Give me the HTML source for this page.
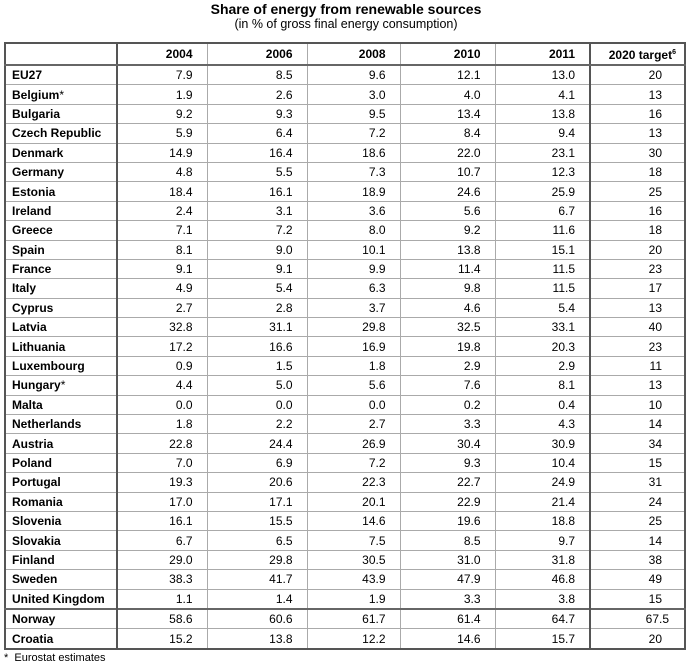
<!DOCTYPE html><html><head><style>
body{margin:0;width:692px;height:671px;background:#fff;font-family:"Liberation Sans",Arial,sans-serif;color:#000;position:relative}
.t{position:absolute;left:0;width:692px;text-align:center;font-weight:bold;font-size:14px;top:1px}
.s{position:absolute;left:0;width:692px;text-align:center;font-size:12.5px;top:17px}
table{position:absolute;left:4px;top:42px;border-collapse:collapse;font-size:12px;border:2px solid #555}
td{height:18.4px;padding:0 14px 0 0;text-align:right;border-top:1px solid #aaa;border-left:1px solid #aaa;line-height:18px}
td:first-child{text-align:left;font-weight:bold;padding:0 0 0 6px;border-right:2px solid #555}
tr.h td{font-weight:bold;height:17.5px;border-bottom:2px solid #666}
tr.n td{border-top:2px solid #666}
td.l{border-left:2px solid #555}
.f{position:absolute;left:4px;top:652px;font-size:11px}
</style></head><body>
<div class="t">Share of energy from renewable sources</div>
<div class="s">(in % of gross final energy consumption)</div>
<table>
<colgroup><col style="width:112px"><col style="width:90px"><col style="width:100px"><col style="width:93px"><col style="width:95px"><col style="width:95px"><col style="width:95px"></colgroup>
<tr class="h"><td></td><td>2004</td><td>2006</td><td>2008</td><td>2010</td><td>2011</td><td class="l" style="padding-right:8px">2020 target<sup style="font-size:7px">6</sup></td></tr>
<tr><td>EU27</td><td>7.9</td><td>8.5</td><td>9.6</td><td>12.1</td><td>13.0</td><td class="l" style="padding-right:22px">20</td></tr>
<tr><td>Belgium<span style="font-weight:normal">*</span></td><td>1.9</td><td>2.6</td><td>3.0</td><td>4.0</td><td>4.1</td><td class="l" style="padding-right:22px">13</td></tr>
<tr><td>Bulgaria</td><td>9.2</td><td>9.3</td><td>9.5</td><td>13.4</td><td>13.8</td><td class="l" style="padding-right:22px">16</td></tr>
<tr><td>Czech Republic</td><td>5.9</td><td>6.4</td><td>7.2</td><td>8.4</td><td>9.4</td><td class="l" style="padding-right:22px">13</td></tr>
<tr><td>Denmark</td><td>14.9</td><td>16.4</td><td>18.6</td><td>22.0</td><td>23.1</td><td class="l" style="padding-right:22px">30</td></tr>
<tr><td>Germany</td><td>4.8</td><td>5.5</td><td>7.3</td><td>10.7</td><td>12.3</td><td class="l" style="padding-right:22px">18</td></tr>
<tr><td>Estonia</td><td>18.4</td><td>16.1</td><td>18.9</td><td>24.6</td><td>25.9</td><td class="l" style="padding-right:22px">25</td></tr>
<tr><td>Ireland</td><td>2.4</td><td>3.1</td><td>3.6</td><td>5.6</td><td>6.7</td><td class="l" style="padding-right:22px">16</td></tr>
<tr><td>Greece</td><td>7.1</td><td>7.2</td><td>8.0</td><td>9.2</td><td>11.6</td><td class="l" style="padding-right:22px">18</td></tr>
<tr><td>Spain</td><td>8.1</td><td>9.0</td><td>10.1</td><td>13.8</td><td>15.1</td><td class="l" style="padding-right:22px">20</td></tr>
<tr><td>France</td><td>9.1</td><td>9.1</td><td>9.9</td><td>11.4</td><td>11.5</td><td class="l" style="padding-right:22px">23</td></tr>
<tr><td>Italy</td><td>4.9</td><td>5.4</td><td>6.3</td><td>9.8</td><td>11.5</td><td class="l" style="padding-right:22px">17</td></tr>
<tr><td>Cyprus</td><td>2.7</td><td>2.8</td><td>3.7</td><td>4.6</td><td>5.4</td><td class="l" style="padding-right:22px">13</td></tr>
<tr><td>Latvia</td><td>32.8</td><td>31.1</td><td>29.8</td><td>32.5</td><td>33.1</td><td class="l" style="padding-right:22px">40</td></tr>
<tr><td>Lithuania</td><td>17.2</td><td>16.6</td><td>16.9</td><td>19.8</td><td>20.3</td><td class="l" style="padding-right:22px">23</td></tr>
<tr><td>Luxembourg</td><td>0.9</td><td>1.5</td><td>1.8</td><td>2.9</td><td>2.9</td><td class="l" style="padding-right:22px">11</td></tr>
<tr><td>Hungary<span style="font-weight:normal">*</span></td><td>4.4</td><td>5.0</td><td>5.6</td><td>7.6</td><td>8.1</td><td class="l" style="padding-right:22px">13</td></tr>
<tr><td>Malta</td><td>0.0</td><td>0.0</td><td>0.0</td><td>0.2</td><td>0.4</td><td class="l" style="padding-right:22px">10</td></tr>
<tr><td>Netherlands</td><td>1.8</td><td>2.2</td><td>2.7</td><td>3.3</td><td>4.3</td><td class="l" style="padding-right:22px">14</td></tr>
<tr><td>Austria</td><td>22.8</td><td>24.4</td><td>26.9</td><td>30.4</td><td>30.9</td><td class="l" style="padding-right:22px">34</td></tr>
<tr><td>Poland</td><td>7.0</td><td>6.9</td><td>7.2</td><td>9.3</td><td>10.4</td><td class="l" style="padding-right:22px">15</td></tr>
<tr><td>Portugal</td><td>19.3</td><td>20.6</td><td>22.3</td><td>22.7</td><td>24.9</td><td class="l" style="padding-right:22px">31</td></tr>
<tr><td>Romania</td><td>17.0</td><td>17.1</td><td>20.1</td><td>22.9</td><td>21.4</td><td class="l" style="padding-right:22px">24</td></tr>
<tr><td>Slovenia</td><td>16.1</td><td>15.5</td><td>14.6</td><td>19.6</td><td>18.8</td><td class="l" style="padding-right:22px">25</td></tr>
<tr><td>Slovakia</td><td>6.7</td><td>6.5</td><td>7.5</td><td>8.5</td><td>9.7</td><td class="l" style="padding-right:22px">14</td></tr>
<tr><td>Finland</td><td>29.0</td><td>29.8</td><td>30.5</td><td>31.0</td><td>31.8</td><td class="l" style="padding-right:22px">38</td></tr>
<tr><td>Sweden</td><td>38.3</td><td>41.7</td><td>43.9</td><td>47.9</td><td>46.8</td><td class="l" style="padding-right:22px">49</td></tr>
<tr><td>United Kingdom</td><td>1.1</td><td>1.4</td><td>1.9</td><td>3.3</td><td>3.8</td><td class="l" style="padding-right:22px">15</td></tr>
<tr class="n"><td>Norway</td><td>58.6</td><td>60.6</td><td>61.7</td><td>61.4</td><td>64.7</td><td class="l" style="padding-right:15px">67.5</td></tr>
<tr><td>Croatia</td><td>15.2</td><td>13.8</td><td>12.2</td><td>14.6</td><td>15.7</td><td class="l" style="padding-right:22px">20</td></tr>
</table>
<div class="f">*&nbsp; Eurostat estimates</div>
</body></html>
